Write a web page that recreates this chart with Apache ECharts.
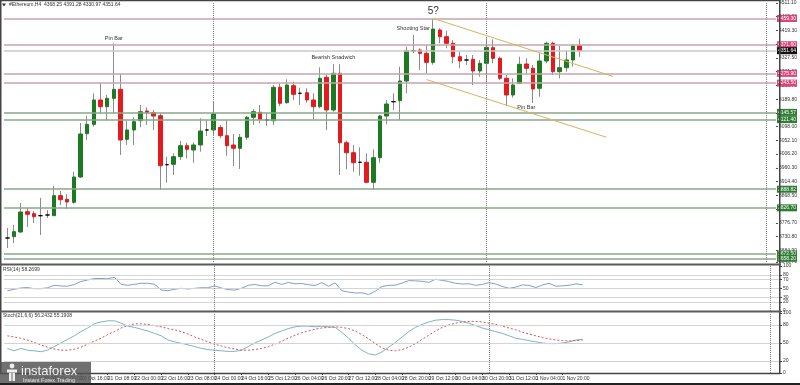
<!DOCTYPE html>
<html><head><meta charset="utf-8">
<script src="https://cdn.jsdelivr.net/npm/echarts@6/dist/echarts.min.js"></script>
<style>html,body{margin:0;padding:0;background:#fff}#c{width:800px;height:385px}</style>
</head><body><div id="c"></div>
<script>
// ---------- data ----------
const chartTitle = '#Ethereum,H4  4368.25 4391.28 4330.97 4351.64';
const rsiTitle = 'RSI(14) 58.2699';
const stochTitle = 'Stoch(21,6,6) 56.2432 55.1908';
const firstBarTime = '2021-10-18T20:00:00Z';
const missingBarTimes = ['25 Oct 00:00'];
const slotCount = 116;
const timeLabels = ['19 Oct 08:00','20 Oct 00:00','20 Oct 16:00','21 Oct 08:00','22 Oct 00:00','22 Oct 16:00','23 Oct 08:00','24 Oct 00:00','24 Oct 16:00','25 Oct 12:00','26 Oct 04:00','26 Oct 20:00','27 Oct 12:00','28 Oct 04:00','28 Oct 20:00','29 Oct 12:00','30 Oct 04:00','30 Oct 20:00','31 Oct 12:00','1 Nov 04:00','1 Nov 20:00'];
const weekSeparators = ['24 Oct 00:00','31 Oct 00:00','7 Nov 00:00'];
// [open, close, low, high]
const candles = [
[3725.9,3725.9,3692.5,3759.4],[3730.3,3747.0,3709.2,3769.4],[3746.0,3812.8,3743.0,3842.9],[3813.8,3805.1,3762.7,3826.2],
[3807.1,3797.1,3776.1,3816.1],[3800.4,3800.4,3736.0,3859.6],[3802.8,3802.8,3792.8,3819.5],[3800.4,3867.3,3799.4,3900.7],
[3867.3,3853.9,3836.2,3883.0],[3855.2,3846.2,3822.8,3873.0],[3845.2,3929.7,3840.6,3947.5],[3929.7,4073.4,3927.0,4110.2],
[4074.4,4105.8,4053.4,4134.5],[4105.8,4187.0,4097.8,4209.4],[4187.0,4164.6,4142.6,4242.8],[4164.6,4192.7,4117.8,4203.7],
[4192.7,4222.7,4142.6,4376.4],[4222.7,4053.4,4003.2,4273.9],[4055.7,4086.8,4036.7,4117.8],[4086.8,4114.5,4036.7,4129.2],
[4117.8,4147.9,4095.8,4170.3],[4150.2,4144.6,4103.5,4162.6],[4144.6,4133.5,4086.8,4153.6],[4134.5,3967.5,3886.3,4142.6],
[3970.8,3970.8,3910.7,3997.6],[3972.2,3997.6,3936.4,4008.9],[3997.6,4034.3,3986.5,4050.0],[4034.3,4022.3,3992.2,4044.3],
[4019.9,4036.7,3977.5,4045.7],[4036.7,4083.4,4014.3,4125.9],[4086.8,4086.8,4066.7,4120.2],[4086.8,4140.2,4070.1,4183.7],
[4095.0,4067.7,4059.0,4103.5],[4067.7,4034.3,4000.9,4120.2],[4036.7,4025.6,3966.5,4073.4],[4025.6,4062.4,3956.5,4073.4],
[4062.4,4129.2,4053.4,4133.5],[4129.2,4147.9,4103.5,4156.9],[4145.9,4122.5,4109.2,4170.3],[4120.2,4120.2,4101.1,4142.6],
[4117.8,4229.4,4103.5,4237.1],[4229.4,4176.0,4167.0,4242.8],[4178.0,4237.1,4175.0,4256.2],[4234.8,4206.0,4187.0,4248.1],
[4209.4,4209.4,4170.3,4228.1],[4211.4,4187.0,4178.0,4226.1],[4187.0,4164.6,4122.5,4209.4],[4164.6,4259.5,4159.3,4296.2],
[4262.8,4153.6,4086.8,4272.9],[4153.6,4276.2,4147.9,4306.3],[4276.2,4044.3,3936.4,4306.3],[4044.3,4010.9,3955.5,4051.0],
[4010.9,3977.5,3947.5,4036.7],[3978.9,3978.9,3934.1,4029.0],[3978.9,3912.0,3908.7,4008.9],[3912.0,3994.2,3886.3,4022.3],
[3994.2,4133.5,3977.5,4136.9],[4133.5,4173.6,4105.8,4187.0],[4181.3,4181.3,4153.6,4209.4],[4184.7,4250.5,4120.2,4298.3],
[4250.5,4351.7,4209.4,4365.1],[4351.7,4351.7,4343.0,4404.2],[4354.1,4343.0,4287.2,4359.7],[4343.0,4312.9,4276.2,4370.8],
[4312.9,4424.2,4305.0,4457.6],[4420.9,4398.5,4376.4,4426.5],[4398.5,4376.4,4359.7,4418.5],[4376.4,4331.7,4309.6,4387.5],
[4331.7,4317.3,4292.9,4348.4],[4320.6,4320.6,4303.9,4337.4],[4323.0,4283.9,4237.1,4337.4],[4283.9,4309.6,4264.9,4320.6],
[4309.6,4363.1,4248.1,4393.1],[4361.7,4326.3,4309.6,4389.8],[4326.3,4259.5,4253.8,4331.7],[4259.5,4203.7,4167.0,4270.5],
[4203.7,4237.1,4195.0,4259.5],[4242.8,4306.3,4240.0,4331.7],[4307.3,4292.9,4273.9,4326.3],[4292.9,4223.7,4177.0,4303.9],
[4226.1,4317.3,4198.0,4343.0],[4317.3,4376.4,4309.6,4381.8],[4376.4,4281.6,4270.5,4381.8],[4281.6,4294.9,4259.5,4367.4],
[4294.9,4320.6,4281.6,4354.1],[4320.6,4367.4,4298.3,4374.1],[4368.25,4351.64,4330.97,4391.28]
];
const rsi = [44.9,48.2,51.1,52.2,49.6,49.6,51.6,57.1,55.6,54.9,58.9,65.6,68.9,72.2,72.2,71.8,74.9,59.3,57.1,59.3,
61.6,61.6,59.3,46.7,45.1,48.2,50.4,48.9,50.4,51.8,51.5,56,51,47.5,46.5,50.5,57,59,56,56,
64,59,63.5,60.5,61,58.5,56.5,63,55,62.5,45,42,40,40.5,36.5,44,54.5,57,57.5,62,
67.5,67,66,63.5,70.5,68,65.5,61.5,60,60.5,57,59,63,60,54.5,50.5,53,58,57,52,
58,61.5,55,56,57.2,60.3,58.27];
const stochMain = [41,37,41,38,37,35.5,38,44,50,56,62,69,75,82,85,87,87,83,78,76,73,70,66,62,55,52,49.5,47,44,41,
39,38,37,36,36,38,44,50,55,60,66,70,74,77,78,78,77,78,77,76,68,58,47,38,32,30,35,43,51,60,
69,76,81,85,88,89,89,88,86,83,79,75,72,69,66,62,58,56,54,52,50,49,49,50,52,55,56.24];
const stochSignal = [62,60,58,55,51,47,43,40,38,38,39.5,43,48,53,58,64,69,75,79,82,82,81,79,77,74,72,69,65,60,56,
52,48,45,42,40,38,38,39,41,44,48,53,58,63,67,70,73,75,76,77,76,74,70,64,57,49,42,38,37,39,
43,49,56,63,70,76,80,83,85,86,86,85,83,81,78,75,72,68,65,62,59,57,55,54,53.5,54,55.19];
const priceMin = 3645.7, priceMax = 4511.1;
const priceTicks = [3645.7,3684.9,3730.8,3776.7,3822.6,3868.5,3914.4,3960.3,4006.2,4052.1,4098.0,4143.9,4189.8,4235.7,4281.6,4327.5,4373.4,4419.3,4465.2,4511.1];
const pinkLevels = [4459.30,4371.60,4275.90,4243.50];
const greenLevels = [4145.57,4121.40,3888.82,3826.70,3672.50,3658.20];
const lastPrice = 4351.64;
const annotationTexts = ['Pin Bar','Bearish Snadwich','Shooting Star','5?','Pin Bar'];
const annotationBars = [16,49,61,64,78];
const annotationPrices = [4394.1,4330.7,4427.6,4482.7,4162.6];
const upperChannel = [[64,4459.6],[91,4265.9]];
const lowerChannel = [[63,4255.2],[90,4062.7]];
const rsiLevels = [80,70,50,30,20];
const rsiTicks = [0,20,30,50,70,80,100];
const stochLevels = [80,50,20];
const stochTicks = [0,20,50,80,100];

// ---------- build ----------
const months = ['Jan','Feb','Mar','Apr','May','Jun','Jul','Aug','Sep','Oct','Nov','Dec'];
const pad = n => String(n).padStart(2,'0');
const fmt = t => { const d = new Date(t); return d.getUTCDate()+' '+months[d.getUTCMonth()]+' '+pad(d.getUTCHours())+':'+pad(d.getUTCMinutes()); };
const categories = [];
for (let t = Date.parse(firstBarTime); categories.length < slotCount; t += 4*3600*1000) {
  const s = fmt(t);
  if (!missingBarTimes.includes(s)) categories.push(s);
}
const FONT = 'Liberation Sans';
const GREEN = '#1e7a22', RED = '#e31b1d', WICK = '#8c8c8c';
const bodies = candles.map(([o,c]) => o === c
  ? {value:[o,c,o,c], itemStyle:{color:'#000',borderColor:'#000'}}
  : [o,c,Math.min(o,c),Math.max(o,c)]);

const sepLines = weekSeparators.map(n => ({xAxis:n, lineStyle:{type:'dotted', color:'#808080', width:1}, label:{show:false}}));
const levelItem = (v, lineColor, bg) => ({
  yAxis: v,
  lineStyle: {color: lineColor, width: 1.5, type: 'solid'},
  label: {show:true, position:'end', distance:1, formatter: v.toFixed(2), color:'#fff', backgroundColor: bg,
          fontSize:5, fontFamily:FONT, padding:[1,1,0,1], lineHeight:6}
});
const mainMarkLines = [
  ...pinkLevels.map(v => levelItem(v, '#c6a4ae', '#d9467a')),
  ...greenLevels.map(v => levelItem(v, '#88a888', '#2e7d32')),
  levelItem(lastPrice, '#c8c8c8', '#111'),
  ...sepLines,
  [{coord: upperChannel[0]}, {coord: upperChannel[1]}],
  [{coord: lowerChannel[0]}, {coord: lowerChannel[1]}]
].map(item => Array.isArray(item)
  ? item.map((p, k) => k === 0 ? Object.assign(p, {lineStyle:{color:'#d6b35c', width:1, type:'solid'}, label:{show:false}}) : p)
  : item);

const annotations = annotationTexts.map((t, i) => ({
  name: t, coord: [annotationBars[i], annotationPrices[i]],
  label: t === '5?' ? {fontSize: 10} : {}
}));

const hiddenX = gi => ({type:'category', gridIndex:gi, data:categories, boundaryGap:true,
  axisLine:{show:false}, axisTick:{show:false}, axisLabel:{show:false}, splitLine:{show:false}});
const isTimeLabel = v => timeLabels.includes(v);
const xAxes = [hiddenX(0), hiddenX(1), Object.assign(hiddenX(2), {
  axisTick:{show:true, interval: (i, v) => isTimeLabel(v), alignWithLabel:true, length:2, lineStyle:{color:'#444'}},
  axisLabel:{show:true, interval: 0, hideOverlap:false, showMinLabel:false, showMaxLabel:false,
    formatter: v => isTimeLabel(v) ? v : '',
    align:'left', fontSize:5, color:'#333', margin:3, fontFamily:FONT}
})];
const yAx = (gi, min, max, ticks, fmtFn) => ({type:'value', gridIndex:gi, position:'right', min, max,
  axisLine:{show:false}, splitLine:{show:false},
  axisTick:{show:true, customValues:ticks, length:2, lineStyle:{color:'#444'}},
  axisLabel:{customValues:ticks, formatter: fmtFn, fontSize:5, color:'#333', margin:3, fontFamily:FONT}});

const levelLines = arr => arr.map(v => ({yAxis:v, lineStyle:{color:'#d4d4d4', width:1, type:'solid'}, label:{show:false}}));

const option = {
  animation: false,
  backgroundColor: '#fff',
  grid: [
    {left:4, right:20, top:3, height:259},
    {left:4, right:20, top:266, height:45},
    {left:4, right:20, top:313, height:60}
  ],
  xAxis: xAxes,
  yAxis: [
    yAx(0, priceMin, priceMax, priceTicks, v => v.toFixed(2)),
    yAx(1, 0, 100, rsiTicks, v => String(v)),
    yAx(2, 0, 100, stochTicks, v => String(v))
  ],
  series: [
    {type:'candlestick', name:'range', xAxisIndex:0, yAxisIndex:0, data:candles, barWidth:1, z:2,
     itemStyle:{color:WICK, color0:WICK, borderColor:WICK, borderColor0:WICK, borderColorDoji:WICK, borderWidth:1},
     markLine:{silent:true, symbol:['none','none'], label:{show:false}, data: mainMarkLines},
     markPoint:{silent:true, symbol:'circle', symbolSize:0,
       label:{show:true, position:'inside', formatter:'{b}', color:'#333', fontSize:5.5, fontFamily:FONT},
       data: annotations}},
    {type:'candlestick', name:'body', xAxisIndex:0, yAxisIndex:0, data:bodies, barWidth:4, z:3,
     itemStyle:{color:GREEN, color0:RED, borderColor:GREEN, borderColor0:RED, borderColorDoji:'#000', borderWidth:1}},
    {type:'line', name:'RSI', xAxisIndex:1, yAxisIndex:1, data:rsi, symbol:'none',
     lineStyle:{color:'#7f9fcd', width:1},
     markLine:{silent:true, symbol:['none','none'], label:{show:false}, data:[...levelLines(rsiLevels), ...sepLines]}},
    {type:'line', name:'StochMain', xAxisIndex:2, yAxisIndex:2, data:stochMain, symbol:'none',
     lineStyle:{color:'#7db4c4', width:1},
     markLine:{silent:true, symbol:['none','none'], label:{show:false}, data:[...levelLines(stochLevels), ...sepLines]}},
    {type:'line', name:'StochSignal', xAxisIndex:2, yAxisIndex:2, data:stochSignal, symbol:'none',
     lineStyle:{color:'#d9534f', width:1, type:[2,2]}}
  ],
  graphic: [
    {type:'rect', silent:true, z:50, shape:{x:0.75,y:0.5,width:779,height:373}, style:{fill:'none', stroke:'#444', lineWidth:1.5}},
    {type:'line', silent:true, z:50, shape:{x1:0,y1:264.5,x2:781,y2:264.5}, style:{stroke:'#5a5a5a', lineWidth:2}},
    {type:'line', silent:true, z:50, shape:{x1:0,y1:311.5,x2:781,y2:311.5}, style:{stroke:'#5a5a5a', lineWidth:2}},
    {type:'rect', silent:true, z:50, shape:{x:0,y:383,width:800,height:2}, style:{fill:'#222'}},
    {type:'polygon', silent:true, z:50, shape:{points:[[2,3.5],[6,3.5],[4,6.5]]}, style:{fill:'#333'}},
    {type:'text', silent:true, z:50, x:9, y:5, style:{text:chartTitle, fill:'#333', font:'5px "Liberation Sans"', verticalAlign:'middle'}},
    {type:'text', silent:true, z:50, x:3, y:270, style:{text:rsiTitle, fill:'#333', font:'5px "Liberation Sans"', verticalAlign:'middle'}},
    {type:'text', silent:true, z:50, x:3, y:316, style:{text:stochTitle, fill:'#333', font:'5px "Liberation Sans"', verticalAlign:'middle'}},
    {type:'rect', silent:true, z:60, shape:{x:0,y:362,width:91,height:21}, style:{fill:'rgba(80,80,80,0.82)'}},
    {type:'circle', silent:true, z:61, shape:{cx:12,cy:366,r:2.4}, style:{fill:'#eee'}},
    {type:'rect', silent:true, z:61, shape:{x:7,y:369.5,width:10,height:3}, style:{fill:'#eee'}},
    {type:'rect', silent:true, z:61, shape:{x:9,y:373,width:6,height:8}, style:{fill:'#eee'}},
    {type:'rect', silent:true, z:62, shape:{x:11.5,y:373,width:1,height:8}, style:{fill:'#666'}},
    {type:'text', silent:true, z:61, x:21, y:371.5, style:{text:'instaforex', fill:'#f2f2f2', font:'13px "Liberation Sans"', verticalAlign:'middle'}},
    {type:'text', silent:true, z:61, x:23, y:380, style:{text:'Instant Forex Trading', fill:'#e6e6e6', font:'5.5px "Liberation Sans"', verticalAlign:'middle'}}
  ]
};
const chart = echarts.init(document.getElementById('c'), null, {renderer:'canvas'});
chart.setOption(option);
</script>
</body></html>
